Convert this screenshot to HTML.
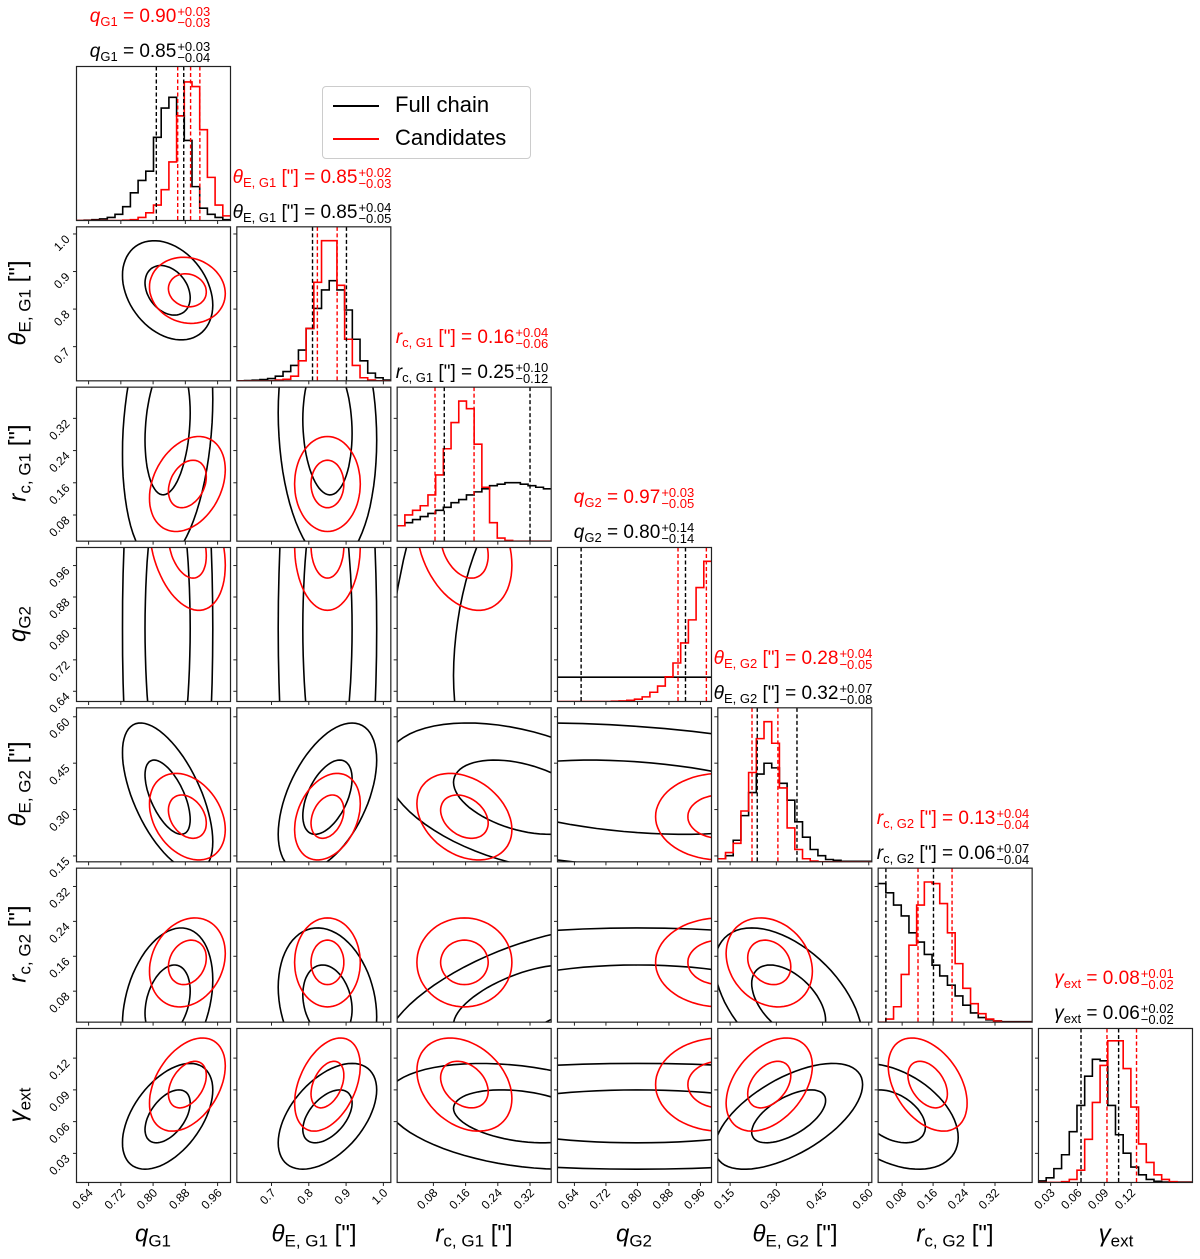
<!DOCTYPE html>
<html><head><meta charset="utf-8">
<style>
body{margin:0;background:#fff;width:1200px;height:1259px;overflow:hidden;font-family:"Liberation Sans","DejaVu Sans",sans-serif;}
#wrap{position:relative;width:1200px;height:1259px;}
svg{position:absolute;left:0;top:0;}
.ttl{position:absolute;font-size:19px;white-space:nowrap;transform:translateX(-50%);line-height:24px;}
.ttl sub{font-size:13px;vertical-align:-4px;}
.pm{display:inline-block;vertical-align:middle;font-size:13px;line-height:11px;margin-left:1px;}
.pm span{display:block;}
.red{color:#f00;}
.axl{position:absolute;font-size:24px;white-space:nowrap;transform:translate(-50%,-50%);}
.axl sub{font-size:17px;vertical-align:-5px;}
.axl.y{transform:translate(-50%,-50%) rotate(-90deg);}
.leg{position:absolute;left:322px;top:86px;width:207px;height:71px;border:1px solid #ccc;border-radius:4px;background:#fff;}
.leg .row{position:absolute;left:10px;height:30px;font-size:22px;line-height:30px;}
.leg .ln{display:inline-block;width:46px;height:2px;background:#000;vertical-align:middle;margin-right:16px;}
.leg .ln.r{background:#f00;}
</style></head>
<body>
<div id="wrap">
<svg id="plot" width="1200" height="1259"></svg>

<div class="leg">
  <div class="row" style="top:3px"><span class="ln"></span>Full chain</div>
  <div class="row" style="top:36px"><span class="ln r"></span>Candidates</div>
</div>

<!-- titles -->
<div class="ttl red" style="left:150px;top:5px"><i>q</i><sub>G1</sub> = 0.90<span class="pm"><span>+0.03</span><span>−0.03</span></span></div>
<div class="ttl" style="left:150px;top:40px"><i>q</i><sub>G1</sub> = 0.85<span class="pm"><span>+0.03</span><span>−0.04</span></span></div>
<div class="ttl red" style="left:312px;top:166px"><i>θ</i><sub>E, G1</sub> ["] = 0.85<span class="pm"><span>+0.02</span><span>−0.03</span></span></div>
<div class="ttl" style="left:312px;top:201px"><i>θ</i><sub>E, G1</sub> ["] = 0.85<span class="pm"><span>+0.04</span><span>−0.05</span></span></div>
<div class="ttl red" style="left:472px;top:326px"><i>r</i><sub>c, G1</sub> ["] = 0.16<span class="pm"><span>+0.04</span><span>−0.06</span></span></div>
<div class="ttl" style="left:472px;top:361px"><i>r</i><sub>c, G1</sub> ["] = 0.25<span class="pm"><span>+0.10</span><span>−0.12</span></span></div>
<div class="ttl red" style="left:634px;top:486px"><i>q</i><sub>G2</sub> = 0.97<span class="pm"><span>+0.03</span><span>−0.05</span></span></div>
<div class="ttl" style="left:634px;top:521px"><i>q</i><sub>G2</sub> = 0.80<span class="pm"><span>+0.14</span><span>−0.14</span></span></div>
<div class="ttl red" style="left:793px;top:647px"><i>θ</i><sub>E, G2</sub> ["] = 0.28<span class="pm"><span>+0.04</span><span>−0.05</span></span></div>
<div class="ttl" style="left:793px;top:682px"><i>θ</i><sub>E, G2</sub> ["] = 0.32<span class="pm"><span>+0.07</span><span>−0.08</span></span></div>
<div class="ttl red" style="left:953px;top:807px"><i>r</i><sub>c, G2</sub> ["] = 0.13<span class="pm"><span>+0.04</span><span>−0.04</span></span></div>
<div class="ttl" style="left:953px;top:842px"><i>r</i><sub>c, G2</sub> ["] = 0.06<span class="pm"><span>+0.07</span><span>−0.04</span></span></div>
<div class="ttl red" style="left:1114px;top:967px"><i>γ</i><sub>ext</sub> = 0.08<span class="pm"><span>+0.01</span><span>−0.02</span></span></div>
<div class="ttl" style="left:1114px;top:1002px"><i>γ</i><sub>ext</sub> = 0.06<span class="pm"><span>+0.02</span><span>−0.02</span></span></div>

<!-- axis labels -->
<div class="axl" style="left:153px;top:1236px"><i>q</i><sub>G1</sub></div>
<div class="axl" style="left:314px;top:1236px"><i>θ</i><sub>E, G1</sub> ["]</div>
<div class="axl" style="left:474px;top:1236px"><i>r</i><sub>c, G1</sub> ["]</div>
<div class="axl" style="left:634px;top:1236px"><i>q</i><sub>G2</sub></div>
<div class="axl" style="left:795px;top:1236px"><i>θ</i><sub>E, G2</sub> ["]</div>
<div class="axl" style="left:955px;top:1236px"><i>r</i><sub>c, G2</sub> ["]</div>
<div class="axl" style="left:1116px;top:1236px"><i>γ</i><sub>ext</sub></div>
<div class="axl y" style="left:20px;top:303px"><i>θ</i><sub>E, G1</sub> ["]</div>
<div class="axl y" style="left:20px;top:463px"><i>r</i><sub>c, G1</sub> ["]</div>
<div class="axl y" style="left:20px;top:624px"><i>q</i><sub>G2</sub></div>
<div class="axl y" style="left:20px;top:784px"><i>θ</i><sub>E, G2</sub> ["]</div>
<div class="axl y" style="left:20px;top:944px"><i>r</i><sub>c, G2</sub> ["]</div>
<div class="axl y" style="left:20px;top:1105px"><i>γ</i><sub>ext</sub></div>
</div>

<script>
// ---- data ----
const params = ["qG1","thetaE_G1","rc_G1","qG2","thetaE_G2","rc_G2","gamma_ext"];
const xRange = [[0.61,0.992],[0.607,1.02],[-0.01,0.3725],[0.597,0.988],[0.11,0.61],[0.018,0.416],[0.0165,0.1885]];
const yRange = [[0,1],[0.609,1.019],[0.015,0.3975],[0.614,1.006],[0.131,0.629],[0.009,0.362],[0.0025,0.148]];
const tickVals = [[0.64,0.72,0.80,0.88,0.96],[0.7,0.8,0.9,1.0],[0.08,0.16,0.24,0.32],[0.64,0.72,0.80,0.88,0.96],[0.15,0.30,0.45,0.60],[0.08,0.16,0.24,0.32],[0.03,0.06,0.09,0.12]];
const tickLabels = [["0.64","0.72","0.80","0.88","0.96"],["0.7","0.8","0.9","1.0"],["0.08","0.16","0.24","0.32"],["0.64","0.72","0.80","0.88","0.96"],["0.15","0.30","0.45","0.60"],["0.08","0.16","0.24","0.32"],["0.03","0.06","0.09","0.12"]];

// 1D histograms (20 bins over each x range), heights as fraction of panel
const histBlack0 = [0,0.002,0.005,0.01,0.02,0.04,0.09,0.18,0.26,0.32,0.54,0.73,0.8,0.68,0.52,0.22,0.08,0.04,0.02,0.005];
const histRed0   = [0,0,0,0,0,0,0.002,0.005,0.02,0.05,0.1,0.2,0.38,0.68,0.9,0.87,0.59,0.28,0.1,0.03];
const histBlack1 = [0,0.002,0.004,0.008,0.015,0.03,0.06,0.1,0.2,0.34,0.47,0.59,0.65,0.59,0.46,0.27,0.13,0.05,0.02,0.005];
const histRed1   = [0,0,0,0,0,0.005,0.01,0.03,0.13,0.34,0.64,0.91,0.91,0.62,0.27,0.1,0.02,0.005,0,0];
const histBlack2 = [0.1,0.12,0.14,0.16,0.18,0.2,0.22,0.25,0.27,0.3,0.32,0.34,0.36,0.37,0.38,0.38,0.37,0.36,0.35,0.34];
const histRed2   = [0.1,0.17,0.2,0.23,0.3,0.43,0.6,0.77,0.91,0.86,0.63,0.35,0.12,0.02,0.005,0,0,0,0,0];
const histBlack3 = [0.158,0.158,0.158,0.158,0.158,0.158,0.158,0.158,0.158,0.158,0.158,0.158,0.158,0.158,0.158,0.158,0.158,0.158,0.158,0.158];
const histRed3   = [0,0,0,0,0,0,0,0.002,0.004,0.008,0.015,0.03,0.06,0.1,0.16,0.25,0.38,0.53,0.74,0.91];
const histBlack4 = [0.02,0.04,0.14,0.3,0.45,0.57,0.64,0.61,0.51,0.4,0.26,0.16,0.08,0.04,0.015,0.01,0.003,0.003,0.003,0.003];
const histRed4   = [0.02,0.06,0.12,0.33,0.58,0.8,0.91,0.77,0.48,0.22,0.08,0.02,0.005,0,0,0,0,0,0,0];
const histBlack5 = [0.9,0.84,0.76,0.69,0.58,0.52,0.44,0.37,0.3,0.24,0.17,0.11,0.06,0.03,0.015,0.008,0.003,0.003,0.003,0.003];
const histRed5   = [0,0.02,0.1,0.31,0.5,0.76,0.91,0.9,0.77,0.58,0.38,0.22,0.12,0.055,0.02,0.006,0,0,0,0];
const histBlack6 = [0.01,0.03,0.09,0.18,0.33,0.5,0.69,0.8,0.79,0.5,0.31,0.19,0.1,0.05,0.02,0.008,0.003,0.003,0.003,0.003];
const histRed6   = [0,0,0,0.005,0.02,0.08,0.28,0.52,0.76,0.92,0.92,0.74,0.49,0.25,0.13,0.05,0.02,0.005,0,0];
const histBlack = [histBlack0,histBlack1,histBlack2,histBlack3,histBlack4,histBlack5,histBlack6];
const histRed = [histRed0,histRed1,histRed2,histRed3,histRed4,histRed5,histRed6];

// quantile lines
const qBlack = [[0.808,0.876],[0.810,0.901],[0.107,0.320],[0.657,0.922],[0.238,0.367],[0.038,0.161],[0.064,0.106]];
const qRed   = [[0.861,0.893,0.916],[0.823,0.876],[0.084,0.181],[0.903,0.975],[0.221,0.305],[0.121,0.209],[0.093,0.126]];

// 2D contour model: means, widths, correlations
const muBlack = [0.836,0.85,0.30,0.80,0.34,0.055,0.065];
const sdBlack = [0.056,0.066,0.17,0.40,0.12,0.085,0.025];
const muRed   = [0.885,0.85,0.157,1.01,0.277,0.146,0.095];
const sdRed   = [0.047,0.044,0.059,0.082,0.07,0.051,0.022];
const rhoBlack = [[],[-0.3],[0.2,-0.1],[0,0,0.3],[-0.6,0.5,-0.4,-0.3],[0.3,-0.2,0.6,0,-0.5],[0.5,0.5,-0.3,0,0.6,-0.4]];
const rhoRed   = [[],[-0.1],[0.3,0],[-0.3,0,-0.3],[-0.3,0.3,-0.3,0],[0.2,0,0,0,-0.2],[0.4,0.4,-0.3,0,0.4,-0.4]];
const contourLevels = [1,2];

// ---- drawing ----
const NS="http://www.w3.org/2000/svg";
const svg=document.getElementById('plot');
const X0=76.5, Y0=66.5, STEP=160.33, S=154;
function px(i,v){return X0+i*STEP+(v-xRange[i][0])/(xRange[i][1]-xRange[i][0])*S;}
function py(j,v){return Y0+j*STEP+S-(v-yRange[j][0])/(yRange[j][1]-yRange[j][0])*S;}
function hy(j,h){return Y0+j*STEP+S-h*S;}
function mk(tag,attrs,parent){const e=document.createElementNS(NS,tag);for(const k in attrs)e.setAttribute(k,attrs[k]);(parent||svg).appendChild(e);return e;}

const defs=mk('defs',{});
for(let j=0;j<7;j++){
  for(let i=0;i<=j;i++){
    const cp=mk('clipPath',{id:'c'+i+'_'+j},defs);
    mk('rect',{x:X0+i*STEP,y:Y0+j*STEP,width:S,height:S},cp);
    const g=mk('g',{'clip-path':'url(#c'+i+'_'+j+')'});
    
    
    if(i===j){
      [[histBlack[i],'#000'],[histRed[i],'#f00']].forEach(([h,col])=>{
        let d='';const n=h.length;const w=(xRange[i][1]-xRange[i][0])/n;
        for(let k=0;k<n;k++){
          const xa=px(i,xRange[i][0]+k*w), xb=px(i,xRange[i][0]+(k+1)*w), y=hy(i,h[k]);
          d+=(k===0?'M'+xa+','+y:'L'+xa+','+y)+'L'+xb+','+y;
        }
        const p=mk('path',{d:d,fill:'none',stroke:col,'stroke-width':1.6},g);
        
        
      });
      [[qBlack[i],'#000'],[qRed[i],'#f00']].forEach(([qs,col])=>{
        qs.forEach(v=>{
          const l=mk('line',{x1:px(i,v),x2:px(i,v),y1:Y0+i*STEP,y2:Y0+i*STEP+S,stroke:col,'stroke-width':1.4,'stroke-dasharray':'4,2.5'},g);
          
          
        });
      });
    } else {
      [[muBlack,sdBlack,rhoBlack,'#000'],[muRed,sdRed,rhoRed,'#f00']].forEach(([mu,sd,rh,col])=>{
        const r=rh[j][i], q=Math.sqrt(1-r*r);
        contourLevels.forEach(k=>{
          let d='';
          for(let t=0;t<=72;t++){
            const a=t/72*2*Math.PI;
            const vx=mu[i]+k*sd[i]*Math.cos(a);
            const vy=mu[j]+k*sd[j]*(r*Math.cos(a)+q*Math.sin(a));
            d+=(t?'L':'M')+px(i,vx).toFixed(1)+','+py(j,vy).toFixed(1);
          }
          const p=mk('path',{d:d+'Z',fill:'none',stroke:col,'stroke-width':1.6},g);
          
          
        });
      });
    }
    const fr=mk('rect',{x:X0+i*STEP,y:Y0+j*STEP,width:S,height:S,fill:'none',stroke:'#222','stroke-width':1.2});
    
    
    // x ticks
    tickVals[i].forEach((v,k)=>{
      const x=px(i,v), yb=Y0+j*STEP+S;
      mk('line',{x1:x,x2:x,y1:yb,y2:yb+3.5,stroke:'#222','stroke-width':1});
      if(j===6){
        const t=mk('text',{x:x+5,y:yb+11,'font-size':12,'text-anchor':'end',transform:'rotate(-45 '+(x+5)+' '+(yb+11)+')'});
        t.textContent=tickLabels[i][k];
        
        
      }
    });
    if(j>0){
      tickVals[j].forEach((v,k)=>{
        const y=py(j,v), xl=X0+i*STEP;
        if(y<Y0+j*STEP||y>Y0+j*STEP+S) return;
        mk('line',{x1:xl-3.5,x2:xl,y1:y,y2:y,stroke:'#222','stroke-width':1});
        if(i===0){
          const t=mk('text',{x:xl-6,y:y+6,'font-size':12,'text-anchor':'end',transform:'rotate(-45 '+(xl-6)+' '+(y+6)+')'});
          t.textContent=tickLabels[j][k];
          
          
        }
      });
    }
  }
}
</script>
</body></html>
